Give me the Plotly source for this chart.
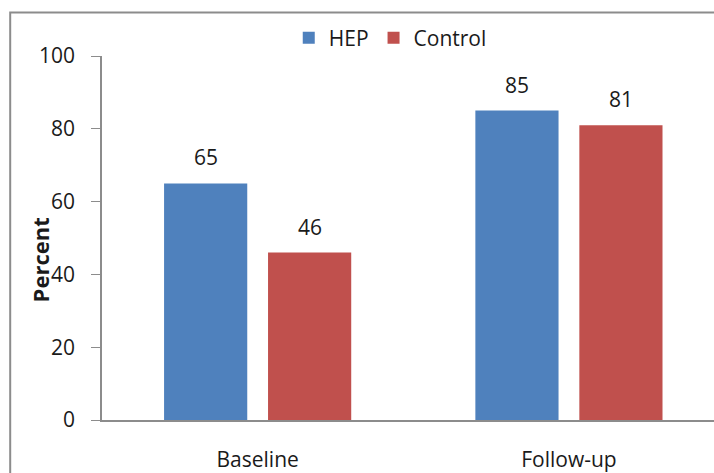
import plotly.graph_objects as go

# Share of participants (percent) at each time point
timepoints = ["Baseline", "Follow-up"]
hep_values = [65, 85]
control_values = [46, 81]
series_names = ["HEP", "Control"]
y_ticks = [0, 20, 40, 60, 80, 100]

FONT = "Open Sans"
TEXT_COLOR = "#1a1a1a"
AXIS_COLOR = "#8c8c8c"
BAR_COLORS = ["#4F81BD", "#C0504D"]
BARGAP = 0.332
GROUPGAP = 0.2

fig = go.Figure()
for name, vals, col in zip(series_names, [hep_values, control_values], BAR_COLORS):
    fig.add_trace(go.Bar(name=name, x=timepoints, y=vals, marker_color=col,
                         marker_line_width=0))

# value labels above each bar: offset of each bar within its category group
n = len(series_names)
slot = (1 - BARGAP) / n
for si, vals in enumerate([hep_values, control_values]):
    off = -(1 - BARGAP) / 2 + slot * (si + 0.5)
    for ci, v in enumerate(vals):
        fig.add_annotation(x=ci + off, y=v, xref="x", yref="y", text=str(v),
                           showarrow=False, yanchor="middle", yshift=26,
                           font=dict(family=FONT, size=21, color=TEXT_COLOR))

# y-axis title
fig.add_annotation(x=-0.102, y=0.44, xref="paper", yref="paper", text="<b>Percent</b>",
                   textangle=-90, showarrow=False, xanchor="center", yanchor="middle",
                   font=dict(family=FONT, size=22, color=TEXT_COLOR))

# chart area frame
fig.add_shape(type="rect", xref="paper", yref="paper", x0=-0.150, y0=-0.2,
              x1=1.1, y1=1.1195, line=dict(color=AXIS_COLOR, width=2),
              fillcolor="rgba(0,0,0,0)", layer="below")

fig.update_layout(
    width=714, height=473,
    margin=dict(l=102, r=0, t=56, b=51),
    paper_bgcolor="white", plot_bgcolor="white",
    barmode="group", bargap=BARGAP, bargroupgap=GROUPGAP,
    font=dict(family=FONT, size=21, color=TEXT_COLOR),
    showlegend=True,
    legend=dict(orientation="h", x=0.471, y=1.049, xanchor="center", yanchor="middle",
                font=dict(family=FONT, size=21, color=TEXT_COLOR),
                bgcolor="rgba(0,0,0,0)", itemclick=False),
    xaxis=dict(type="category", range=[-0.5, 1.466], showline=True, linecolor=AXIS_COLOR,
               linewidth=1.5, ticks="", showgrid=False, zeroline=False,
               ticklabelstandoff=20, tickfont=dict(family=FONT, size=21, color=TEXT_COLOR)),
    yaxis=dict(range=[0, 100], tickvals=y_ticks, showline=True, linecolor=AXIS_COLOR,
               linewidth=1.5, ticks="outside", ticklen=9, tickcolor=AXIS_COLOR,
               showgrid=False, zeroline=False, ticklabelstandoff=12,
               tickfont=dict(family=FONT, size=21, color=TEXT_COLOR)),
)

fig.write_html("out.html")
